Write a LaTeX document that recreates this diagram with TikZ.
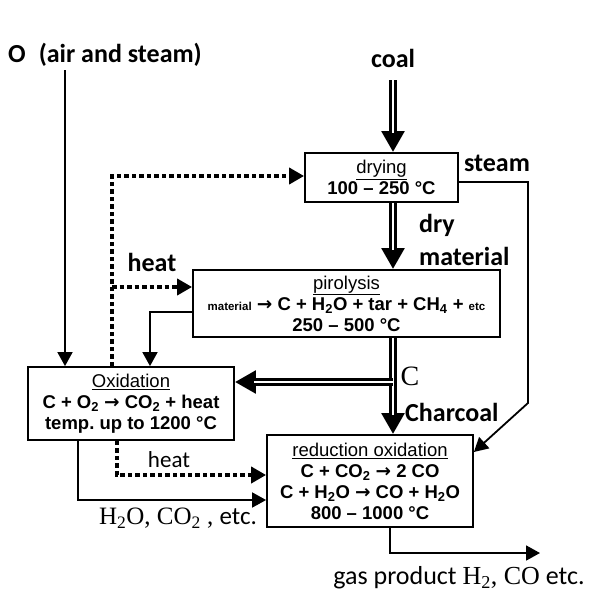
\documentclass[tikz,border=0pt]{standalone}
\usepackage{fontspec}
\setmainfont{Liberation Sans}
\newfontfamily\lblfont{Carlito}
\newfontfamily\serfont{Liberation Serif}
\newfontfamily\arrfont{DejaVu Sans}
\usetikzlibrary{arrows.meta}
\tikzset{
  box/.style={draw, line width=1.8pt, align=center, inner sep=0pt, font=\fontsize{18.5}{21}\selectfont\bfseries},
  flow/.style={line width=1.8pt, -{Triangle[length=14pt,width=15pt]}},
  feed/.style={double, double distance=2.5pt, line width=2.4pt, shorten >=19pt},
  feedtip/.style={line width=7.3pt, -{Triangle[length=21pt,width=22pt]}},
  heatline/.style={line width=4.5pt, dash pattern=on 4.5pt off 3pt, -{Triangle[length=15pt,width=16pt]}},
  lbl/.style={font=\lblfont\bfseries\fontsize{26}{28}\selectfont, inner sep=0pt},
}
\newcommand{\ttl}[1]{\underline{\mdseries #1}}
\newcommand{\yields}{{\arrfont\bfseries →}}
\begin{document}
\begin{tikzpicture}[x=1pt, y=-1pt]
\useasboundingbox[fill=white] (0,0) rectangle (598,600);
% boxes
\node[box, minimum width=153pt, minimum height=49pt] (dry) at (381.5,177.5) {\ttl{drying}\\100 – 250 °C};
\node[box, minimum width=307pt, minimum height=67pt] (pyro) at (346.5,303.5) {\ttl{pirolysis}\\{\fontsize{11.5}{12}\selectfont material} \yields{} C + H\textsubscript{2}O + tar + CH\textsubscript{4} + {\fontsize{11.5}{12}\selectfont etc}\\250 – 500 °C};
\node[box, minimum width=206pt, minimum height=73pt] (oxid) at (131,403.5) {\ttl{Oxidation}\\C + O\textsubscript{2} \yields{} CO\textsubscript{2} + heat\\temp.\ up to 1200 °C};
\node[box, minimum width=206pt, minimum height=92pt] (redu) at (370,481) {\ttl{reduction oxidation}\\C + CO\textsubscript{2} \yields{} 2 CO\\C + H\textsubscript{2}O \yields{} CO + H\textsubscript{2}O\\800 – 1000 °C};
% labels
\node[lbl, anchor=west] (air) at (8,55) {O\hspace{13pt}(air and steam)};
\node[lbl] (coal) at (393,58) {coal};
\node[lbl] (steam) at (497,163) {steam};
\node[lbl, anchor=west] (drylbl) at (419,225) {dry};
\node[lbl, anchor=west] (matlbl) at (419,256) {material};
\node[lbl] (heatA) at (152,262) {heat};
\node[font=\serfont\fontsize{28}{30}\selectfont, inner sep=0pt] (clbl) at (410,376) {C};
\node[lbl, anchor=west] (charcoal) at (405,412) {Charcoal};
\node[font=\lblfont\fontsize{23}{25}\selectfont, inner sep=0pt] (heatB) at (169,460) {heat};
\node[font=\serfont\fontsize{25}{27}\selectfont, inner sep=0pt] (exhaust) at (178,518) {H\textsubscript{2}O, CO\textsubscript{2} , {\lblfont etc.}};
\node[font=\lblfont\fontsize{26}{28}\selectfont, inner sep=0pt] (gas) at (459,578) {gas product {\serfont H\textsubscript{2}, CO} etc.};
% connectors
\coordinate (airend) at (65,70);
\coordinate (coalend) at (393,80);
\coordinate (pyrotap) at (393,382);
\coordinate (steamA) at (528,182);
\coordinate (steamB) at (528,403);
\coordinate (heatC) at (112,176);
\coordinate (heatD) at (112,287);
\coordinate (gasA) at (390,553);
\coordinate (gasend) at (540,553);
\draw[feedtip] (coalend) -- ([xshift=11.5pt]dry.north);
\draw[feed] (coalend) -- ([xshift=11.5pt]dry.north);
\draw[feedtip] ([xshift=11.5pt]dry.south) -- ([xshift=46.5pt]pyro.north);
\draw[feed] ([xshift=11.5pt]dry.south) -- ([xshift=46.5pt]pyro.north);
\draw[feedtip] ([xshift=46.5pt]pyro.south) -- ([xshift=23pt]redu.north);
\draw[feed] ([xshift=46.5pt]pyro.south) -- ([xshift=23pt]redu.north);
\draw[feedtip] (pyrotap) -- ([yshift=21.5pt]oxid.east);
\draw[feed] (pyrotap) -- ([yshift=21.5pt]oxid.east);
\draw[flow] (airend) -- ([xshift=-66pt]oxid.north);
\draw[flow] ([yshift=-8.5pt]pyro.west) -| ([xshift=19pt]oxid.north);
\draw[flow] ([yshift=-4.5pt]dry.east) -- (steamA) -- (steamB) -- ([yshift=29pt]redu.east);
\draw[heatline] ([xshift=-19pt]oxid.north) -- (heatC) -- (heatC -| dry.west);
\draw[heatline] (heatD) -- (heatD -| pyro.west);
\draw[heatline] ([xshift=-14pt]oxid.south) |- ([yshift=6pt]redu.west);
\draw[flow] ([xshift=-53pt]oxid.south) |- ([yshift=-19pt]redu.west);
\draw[flow] ([xshift=20pt]redu.south) -- (gasA) -- (gasend);
\end{tikzpicture}
\end{document}
